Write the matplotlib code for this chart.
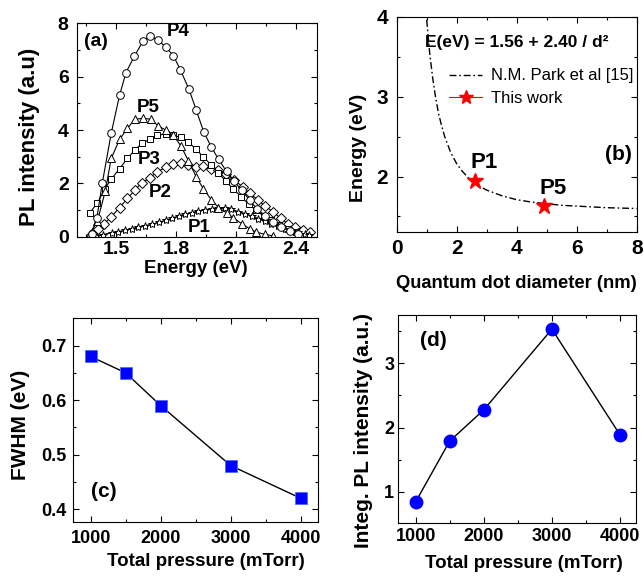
import matplotlib
matplotlib.use('Agg')
import matplotlib.pyplot as plt
from matplotlib.ticker import MultipleLocator
from matplotlib.lines import Line2D

plt.rcParams['font.family'] = ['Liberation Sans', 'DejaVu Sans']
plt.rcParams['font.weight'] = 'bold'
plt.rcParams['axes.labelweight'] = 'bold'

# (a) PL spectra
p4_e = [1.378, 1.404, 1.431, 1.476, 1.518, 1.550, 1.591, 1.634, 1.670, 1.712, 1.750, 1.787, 1.822, 1.865,
        1.901, 1.938, 1.976, 2.013, 2.053, 2.091, 2.128, 2.169, 2.203, 2.245, 2.285, 2.327, 2.369, 2.412]
p4_i = [0.13, 0.7, 2.0, 3.88, 5.31, 6.15, 6.75, 7.31, 7.52, 7.35, 7.09, 6.78, 6.25, 5.52,
        4.75, 3.94, 3.375, 2.9, 2.45, 2.09, 1.75, 1.375, 1.06, 0.8, 0.56, 0.37, 0.21, 0.1]

p5_e = [1.368, 1.407, 1.447, 1.476, 1.518, 1.557, 1.594, 1.635, 1.674, 1.712, 1.748, 1.787, 1.825,
        1.862, 1.901, 1.937, 1.976, 2.012, 2.054, 2.086, 2.128, 2.170, 2.202, 2.244, 2.286]
p5_i = [0.12, 0.6, 1.73, 2.94, 3.65, 4.06, 4.4, 4.44, 4.4, 4.15, 4.0, 3.8, 3.4,
        2.85, 2.25, 1.8, 1.4, 1.1, 0.9, 0.72, 0.5, 0.3, 0.18, 0.1, 0.04]

p3_e = [1.368, 1.407, 1.444, 1.476, 1.518, 1.557, 1.594, 1.630, 1.668, 1.705, 1.748, 1.787, 1.825, 1.861,
        1.898, 1.936, 1.975, 2.011, 2.048, 2.085, 2.127, 2.164, 2.201, 2.238, 2.275, 2.317, 2.359, 2.402]
p3_i = [0.9, 1.27, 1.8, 2.16, 2.56, 2.94, 3.25, 3.5, 3.65, 3.8, 3.85, 3.8, 3.72, 3.55,
        3.3, 3.0, 2.7, 2.4, 2.1, 1.8, 1.5, 1.22, 1.0, 0.78, 0.62, 0.45, 0.31, 0.19]

p2_e = [1.378, 1.410, 1.442, 1.476, 1.518, 1.557, 1.594, 1.630, 1.668, 1.705, 1.748, 1.787, 1.825, 1.861, 1.898,
        1.936, 1.975, 2.011, 2.048, 2.090, 2.133, 2.170, 2.210, 2.246, 2.286, 2.323, 2.360, 2.397, 2.434, 2.472]
p2_i = [0.13, 0.31, 0.5, 0.75, 1.1, 1.44, 1.75, 2.03, 2.2, 2.44, 2.6, 2.72, 2.76, 2.7, 2.63,
        2.64, 2.56, 2.5, 2.35, 2.13, 1.88, 1.63, 1.38, 1.15, 0.94, 0.7, 0.5, 0.37, 0.25, 0.19]

p1_e = [1.399, 1.436, 1.478, 1.510, 1.545, 1.579, 1.611, 1.645, 1.679, 1.714, 1.748, 1.779, 1.814, 1.847,
        1.878, 1.911, 1.945, 1.980, 2.011, 2.043, 2.075, 2.111, 2.145, 2.180, 2.212, 2.243, 2.275, 2.312,
        2.345, 2.381, 2.412, 2.444, 2.465]
p1_i = [0.03, 0.09, 0.16, 0.2, 0.25, 0.31, 0.375, 0.42, 0.475, 0.55, 0.625, 0.7, 0.79, 0.85,
        0.91, 0.97, 1.02, 1.06, 1.08, 1.07, 1.03, 0.95, 0.875, 0.78, 0.69, 0.6, 0.5, 0.4,
        0.31, 0.24, 0.17, 0.1, 0.06]

# (b) size dependence
park_d = [1.0, 1.1, 1.2, 1.3, 1.4, 1.5, 1.6, 1.8, 2.0, 2.2, 2.4, 2.6, 2.8, 3.0, 3.5, 4.0, 4.5, 5.0, 5.5, 6.0, 7.0, 8.0]
park_e = [3.96, 3.54, 3.23, 2.98, 2.78, 2.63, 2.50, 2.30, 2.16, 2.06, 1.98, 1.92, 1.87, 1.83, 1.76, 1.71,
          1.68, 1.66, 1.64, 1.63, 1.61, 1.60]
work_d = [2.6, 4.9]
work_e = [1.95, 1.63]

# (c), (d) vs pressure
pressure = [1000, 1500, 2000, 3000, 4000]
fwhm = [0.68, 0.65, 0.59, 0.48, 0.42]
integ_pl = [0.845, 1.79, 2.275, 3.53, 1.886]

BLUE = '#0000ff'


def style(ax, xmaj, xmin, ymaj, ymin, size, padx, pady):
    ax.xaxis.set_major_locator(MultipleLocator(xmaj))
    ax.xaxis.set_minor_locator(MultipleLocator(xmin))
    ax.yaxis.set_major_locator(MultipleLocator(ymaj))
    ax.yaxis.set_minor_locator(MultipleLocator(ymin))
    ax.tick_params(which='both', direction='in', top=True, right=True, width=0.8, labelsize=size)
    ax.tick_params(which='major', length=4)
    ax.tick_params(which='minor', length=2.5)
    ax.tick_params(axis='x', pad=padx)
    ax.tick_params(axis='y', pad=pady)
    for s in ax.spines.values():
        s.set_linewidth(0.8)


def labels(ax, xl, yl, xs, ys, xpos, ypos):
    ax.set_xlabel(xl, fontsize=xs)
    ax.set_ylabel(yl, fontsize=ys)
    ax.xaxis.set_label_coords(*xpos)
    ax.yaxis.set_label_coords(*ypos)
    ax.xaxis.label.set_va('center')
    ax.yaxis.label.set_va('center')


fig = plt.figure(figsize=(6.44, 5.83), dpi=100)

# (a)
ax1 = fig.add_axes([0.1196, 0.5935, 0.3726, 0.3670])
mk = dict(color='black', lw=0.8, mfc='white', mec='black', mew=0.7)
ax1.plot(p2_e, p2_i, marker='D', ms=4.8, **mk)
ax1.plot(p3_e, p3_i, marker='s', ms=5, **mk)
ax1.plot(p1_e, p1_i, marker='*', ms=6, **mk)
ax1.plot(p5_e, p5_i, marker='^', ms=6, **mk)
ax1.plot(p4_e, p4_i, marker='o', ms=5.5, **mk)
ax1.set_xlim(1.305, 2.505)
ax1.set_ylim(0, 8)
style(ax1, 0.3, 0.15, 2, 1, 14, 3, 6)
labels(ax1, 'Energy (eV)', 'PL intensity (a.u)', 13.5, 16, (0.496, -0.145), (-0.2, 0.47))
ax1.text(1.40, 7.3, '(a)', fontsize=14, ha='center', va='center')
for name, x, y in [('P4', 1.81, 7.68), ('P5', 1.66, 4.86), ('P3', 1.665, 2.88), ('P2', 1.72, 1.68), ('P1', 1.915, 0.36)]:
    ax1.text(x, y, name, fontsize=13.5, ha='center', va='center')

# (b)
ax2 = fig.add_axes([0.616, 0.6026, 0.3727, 0.3688])
ax2.plot(park_d, park_e, color='black', lw=1.0, dashes=(5, 2, 1.2, 2))
ax2.plot(work_d, work_e, ls='none', marker='*', ms=12, color='red', mec='red')
ax2.set_xlim(0, 8)
ax2.set_ylim(1.31, 4)
style(ax2, 2, 1, 1, 0.5, 15, 5, 6)
labels(ax2, 'Quantum dot diameter (nm)', 'Energy (eV)', 13.2, 14, (0.5, -0.239), (-0.161, 0.39))
ax2.text(0.5, 0.88, 'E(eV) = 1.56 + 2.40 / d²', transform=ax2.transAxes, fontsize=12.5, ha='center', va='center')
h1 = Line2D([], [], color='black', lw=1.0, dashes=(5, 2, 1.2, 2))
h2 = Line2D([], [], color='red', lw=0.8, marker='*', ms=10, mec='red')
ax2.legend([h1, h2], ['N.M. Park et al [15]', 'This work'], loc='upper left', bbox_to_anchor=(0.19, 0.79),
           frameon=False, prop={'weight': 'normal', 'size': 12}, handlelength=2.0, handletextpad=0.5,
           labelspacing=0.45, borderaxespad=0)
ax2.text(2.9, 2.17, 'P1', fontsize=16, ha='center', va='center')
ax2.text(5.2, 1.85, 'P5', fontsize=16, ha='center', va='center')
ax2.text(0.98, 0.36, '(b)', transform=ax2.transAxes, fontsize=15, ha='right', va='center')

# (c)
ax3 = fig.add_axes([0.1138, 0.1051, 0.3805, 0.3489])
ax3.plot(pressure, fwhm, color='black', lw=1.0, marker='s', ms=8, mfc=BLUE, mec='#4a6cff', mew=0.6)
ax3.set_xlim(752, 4252)
ax3.set_ylim(0.377, 0.75)
style(ax3, 1000, 500, 0.1, 0.05, 13, 6, 5)
labels(ax3, 'Total pressure (mTorr)', 'FWHM (eV)', 13.5, 15, (0.542, -0.197), (-0.215, 0.475))
ax3.text(1181, 0.432, '(c)', fontsize=15, ha='center', va='center')

# (d)
ax4 = fig.add_axes([0.6185, 0.1034, 0.3691, 0.3563])
ax4.plot(pressure, integ_pl, color='black', lw=1.0, marker='o', ms=9, mfc=BLUE, mec=BLUE)
ax4.set_xlim(745, 4235)
ax4.set_ylim(0.52, 3.75)
style(ax4, 1000, 500, 1, 0.5, 13, 4, 3)
labels(ax4, 'Total pressure (mTorr)', 'Integ. PL intensity (a.u.)', 13.5, 15, (0.529, -0.195), (-0.147, 0.442))
ax4.text(1063, 3.36, '(d)', fontsize=15, ha='left', va='center')

fig.savefig('out.png', dpi=100)
